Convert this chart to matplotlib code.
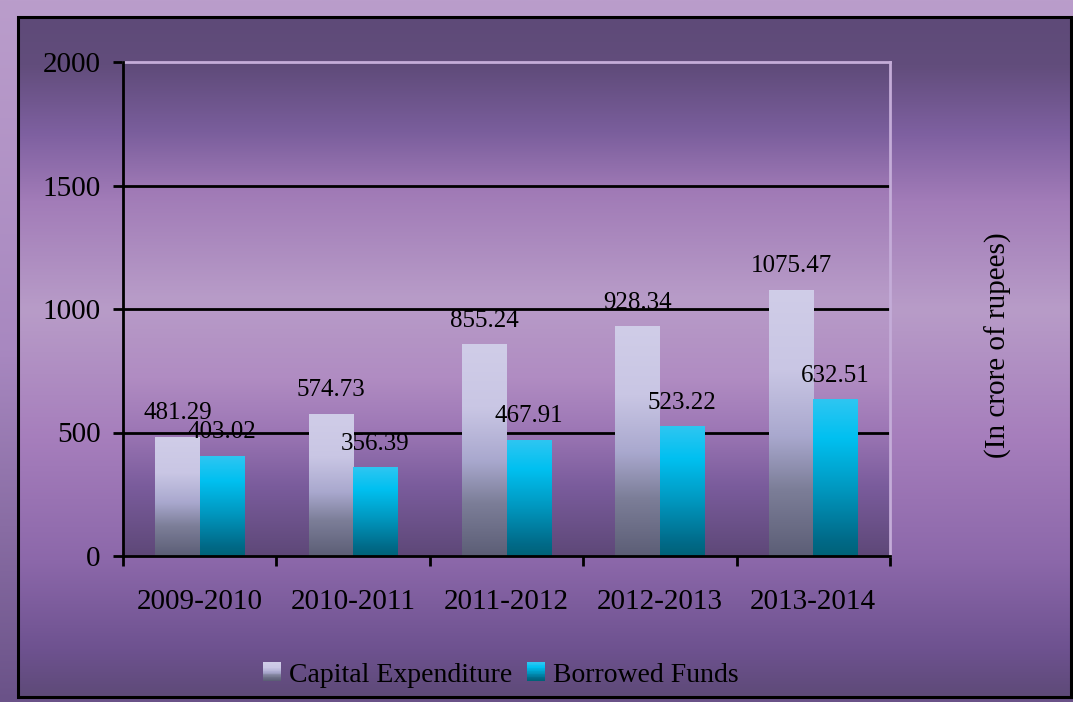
import numpy as np
import matplotlib
matplotlib.use("Agg")
from matplotlib import pyplot as plt
from matplotlib.colors import LinearSegmentedColormap
from matplotlib.patches import Rectangle
from matplotlib.legend_handler import HandlerBase

# data
years = ['2009-2010', '2010-2011', '2011-2012', '2012-2013', '2013-2014']
capital_exp = [481.29, 574.73, 855.24, 928.34, 1075.47]
borrowed = [403.02, 356.39, 467.91, 523.22, 632.51]
series_names = ['Capital Expenditure', 'Borrowed Funds']
y_ticks = [0, 500, 1000, 1500, 2000]

plt.rcParams['font.family'] = ['Liberation Serif', 'DejaVu Serif']

def make_cmap(name, stops):
    return LinearSegmentedColormap.from_list(name, stops)

# gradients, listed top -> bottom
outer_cmap = make_cmap('outer', [(0, '#BA9DCB'), (0.5, '#A888C0'), (1, '#6A5288')])
frame_cmap = make_cmap('frame', [(0, '#5E4A78'), (0.07, '#624D7C'), (0.17, '#7E60A0'),
                                 (0.27, '#A27CB8'), (0.43, '#B89CC8'), (0.62, '#A67EBC'),
                                 (0.8, '#8C68AA'), (0.93, '#6E5290'), (1, '#5E4A78')])
plot_cmap = make_cmap('plotarea', [(0, '#5E4A78'), (0.14, '#7A5E9C'), (0.26, '#A07AB6'),
                                   (0.48, '#B89CC8'), (0.64, '#B08CC2'), (0.74, '#9E78B6'),
                                   (0.86, '#7A5C9C'), (1, '#5E4878')])
cap_cmap = make_cmap('cap', [(0, '#D0CDE8'), (0.3, '#C9C6E4'), (0.55, '#A9A8CE'),
                             (0.75, '#7C7E98'), (1, '#5C5E76')])
bor_cmap = make_cmap('bor', [(0, '#2EC6F2'), (0.25, '#00C0F0'), (0.57, '#0098C0'),
                             (0.9, '#006A88'), (1, '#006278')])

grad = np.linspace(0, 1, 256).reshape(-1, 1)

W, H = 1073, 702
fig = plt.figure(figsize=(W / 100, H / 100), dpi=100)

# background + frame (pixel coordinates)
bg = fig.add_axes([0, 0, 1, 1], zorder=-5)
bg.imshow(grad, cmap=outer_cmap, aspect='auto', extent=(0, W, H, 0))
bg.imshow(grad, cmap=frame_cmap, aspect='auto', extent=(18, 1071, 697, 17))
bg.add_patch(Rectangle((18, 17), 1053, 680, fill=False, edgecolor='black', lw=2.2))
bg.set_xlim(0, W)
bg.set_ylim(H, 0)
bg.axis('off')

ax = fig.add_axes([123 / W, 1 - 556 / H, (890 - 123) / W, (556 - 62) / H])
ax.patch.set_alpha(0)
ax.imshow(grad, cmap=plot_cmap, aspect='auto', extent=(-0.5, 4.5, 0, 2000), zorder=0)

x = np.arange(len(years))
bw = 0.29
cap_bars = ax.bar(x - bw / 2, capital_exp, bw, color='none', edgecolor='none', zorder=3)
bor_bars = ax.bar(x + bw / 2, borrowed, bw, color='none', edgecolor='none', zorder=3)

for bars, cmap, vals in [(cap_bars, cap_cmap, capital_exp), (bor_bars, bor_cmap, borrowed)]:
    for b, v in zip(bars, vals):
        x0 = b.get_x()
        ax.imshow(grad, cmap=cmap, aspect='auto', zorder=3,
                  extent=(x0, x0 + b.get_width(), 0, b.get_height()))
        ax.annotate(f'{v:.2f}', (x0 + b.get_width() / 2, v), xytext=(0, 13),
                    textcoords='offset points', ha='center', va='baseline',
                    fontsize=18, color='black', zorder=5)

for t in y_ticks[1:-1]:
    ax.axhline(t, color='black', lw=2, zorder=2)

ax.set_xlim(-0.5, 4.5)
ax.set_ylim(0, 2000)
ax.set_yticks(y_ticks)
ax.set_xticks(x)
ax.set_xticklabels(years)
ax.set_xticks(np.arange(-0.5, 5, 1), minor=True)
ax.tick_params(axis='x', which='major', length=0, pad=24, labelsize=21)
ax.tick_params(axis='x', which='minor', length=7, width=2, direction='out')
ax.tick_params(axis='y', length=7, width=2, direction='out', pad=9, labelsize=21)

for s in ['left', 'bottom']:
    ax.spines[s].set_color('black')
    ax.spines[s].set_linewidth(2)
    ax.spines[s].set_zorder(6)
for s in ['top', 'right']:
    ax.spines[s].set_color('#C4ACD8')
    ax.spines[s].set_linewidth(2)

fig.text(998 / W, 1 - 345 / H, '(In crore of rupees)', rotation=90,
         ha='center', va='center', fontsize=21)


class GradientHandler(HandlerBase):
    def __init__(self, cmap):
        super().__init__()
        self.cmap = cmap

    def create_artists(self, legend, orig_handle, xdescent, ydescent, width, height,
                       fontsize, trans):
        n = 24
        out = []
        for k in range(n):
            r = Rectangle((-xdescent, -ydescent + height * (n - 1 - k) / n), width,
                          height / n + 0.3, facecolor=self.cmap(k / (n - 1)),
                          edgecolor='none', transform=trans)
            out.append(r)
        return out


h1 = Rectangle((0, 0), 1, 1)
h2 = Rectangle((0, 0), 1, 1)
fig.legend([h1, h2], series_names, loc='center', bbox_to_anchor=(501 / W, 1 - 675 / H),
           ncol=2, frameon=False, fontsize=20, handlelength=0.62, handleheight=0.62,
           handletextpad=0.3, columnspacing=0.55, borderpad=0,
           handler_map={h1: GradientHandler(cap_cmap), h2: GradientHandler(bor_cmap)})

fig.savefig('out.png', dpi=100)
